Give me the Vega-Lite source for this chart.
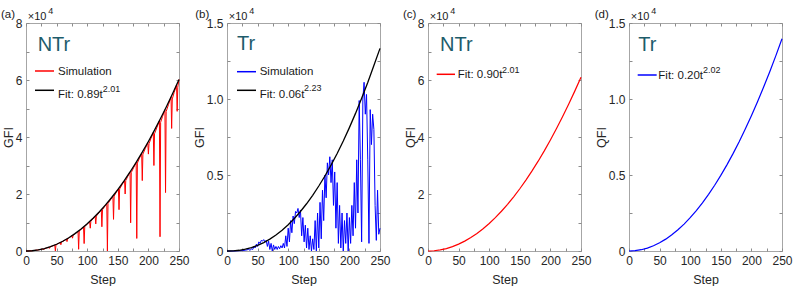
{
  "$schema": "https://vega.github.io/schema/vega-lite/v6.json",
  "padding": {"left": 0, "top": 5, "right": 0, "bottom": 0},
  "spacing": 48,
  "bounds": "flush",
  "config": {
    "font": "Liberation Sans",
    "view": {"stroke": "#a6a6a6", "strokeWidth": 1},
    "style": {"guide-title": {"fontWeight": "normal"}},
    "axis": {"grid": false, "domain": false, "tickSize": -3, "tickColor": "#8c8c8c", "tickWidth": 1,
      "labelFont": "Liberation Sans", "labelFontSize": 12, "labelColor": "#262626", "labelPadding": 7,
      "labelFlush": false, "labelOverlap": false,
      "titleFont": "Liberation Sans", "titleFontSize": 12.5, "titleFontWeight": "normal", "titleColor": "#262626"},
    "text": {"font": "Liberation Sans"}
  },
  "datasets": {
    "simA": [
      {"t":0,"v":0},{"t":10,"v":92},{"t":20,"v":374},{"t":27,"v":687},{"t":28,"v":738},{"t":29,"v":400},{"t":30,"v":823},{"t":33,"v":1012},
      {"t":37,"v":1293},{"t":38,"v":900},{"t":39,"v":1395},{"t":43,"v":1723},{"t":47,"v":2092},{"t":48,"v":0},{"t":49,"v":2206},{"t":52,"v":2525},
      {"t":56,"v":2976},{"t":57,"v":2200},{"t":58,"v":3098},{"t":62,"v":3596},{"t":66,"v":4140},{"t":67,"v":3300},{"t":68,"v":4264},{"t":71,"v":4722},
      {"t":75,"v":5352},{"t":76,"v":4500},{"t":77,"v":5474},{"t":81,"v":6154},{"t":85,"v":6883},{"t":86,"v":600},{"t":87,"v":6997},{"t":90,"v":7606},
      {"t":94,"v":8428},{"t":95,"v":2600},{"t":96,"v":8528},{"t":100,"v":9399},{"t":104,"v":10326},{"t":105,"v":8000},{"t":106,"v":10407},{"t":109,"v":11178},
      {"t":113,"v":12201},{"t":114,"v":9500},{"t":115,"v":12260},{"t":119,"v":13335},{"t":123,"v":14468},{"t":124,"v":8500},{"t":125,"v":14497},{"t":128,"v":15440},
      {"t":132,"v":16674},{"t":133,"v":0},{"t":134,"v":16671},{"t":138,"v":17960},{"t":142,"v":19310},{"t":143,"v":11100},{"t":144,"v":19263},{"t":147,"v":20390},
      {"t":151,"v":21847},{"t":152,"v":14500},{"t":153,"v":21761},{"t":157,"v":23273},{"t":161,"v":24855},{"t":162,"v":20000},{"t":163,"v":24714},{"t":166,"v":26035},
      {"t":170,"v":27726},{"t":171,"v":9900},{"t":172,"v":27534},{"t":176,"v":29281},{"t":180,"v":31101},{"t":181,"v":4400},{"t":182,"v":30845},{"t":185,"v":32371},
      {"t":189,"v":34307},{"t":190,"v":24700},{"t":191,"v":33990},{"t":195,"v":35982},{"t":199,"v":38050},{"t":200,"v":34000},{"t":201,"v":37658},{"t":204,"v":39398},
      {"t":208,"v":41591},{"t":209,"v":30000},{"t":210,"v":41127},{"t":214,"v":43379},{"t":218,"v":45705},{"t":219,"v":5000},{"t":220,"v":45157},{"t":223,"v":47123},
      {"t":227,"v":49579},{"t":228,"v":20500},{"t":229,"v":48948},{"t":233,"v":51467},{"t":237,"v":54066},{"t":238,"v":43000},{"t":239,"v":53339},{"t":242,"v":55538},
      {"t":246,"v":58275},{"t":247,"v":49000},{"t":248,"v":57455},{"t":250,"v":60192}
    ],
    "fitA": [
      {"t":0,"v":0},{"t":10,"v":93},{"t":20,"v":376},{"t":30,"v":849},{"t":40,"v":1513},{"t":50,"v":2370},{"t":60,"v":3418},{"t":70,"v":4659},
      {"t":80,"v":6094},{"t":90,"v":7722},{"t":100,"v":9543},{"t":110,"v":11558},{"t":120,"v":13767},{"t":130,"v":16170},{"t":140,"v":18767},
      {"t":150,"v":21559},{"t":160,"v":24546},{"t":170,"v":27727},{"t":180,"v":31102},{"t":190,"v":34674},{"t":200,"v":38438},{"t":210,"v":42398},
      {"t":220,"v":46553},{"t":230,"v":50906},{"t":240,"v":55450},{"t":250,"v":60196}
    ],
    "simB": [
      {"t":0,"v":0},{"t":5,"v":0},{"t":10,"v":0},{"t":15,"v":10},{"t":20,"v":20},{"t":25,"v":30},{"t":30,"v":50},{"t":35,"v":100},{"t":38,"v":50},
      {"t":40,"v":150},{"t":42,"v":100},{"t":44,"v":300},{"t":46,"v":200},{"t":48,"v":450},{"t":50,"v":300},{"t":52,"v":600},{"t":54,"v":500},
      {"t":56,"v":700},{"t":58,"v":650},{"t":60,"v":750},{"t":62,"v":600},{"t":64,"v":700},{"t":66,"v":300},{"t":68,"v":650},{"t":70,"v":100},
      {"t":72,"v":500},{"t":74,"v":0},{"t":76,"v":400},{"t":78,"v":100},{"t":80,"v":300},{"t":82,"v":100},{"t":84,"v":300},{"t":86,"v":150},
      {"t":88,"v":350},{"t":90,"v":200},{"t":92,"v":500},{"t":94,"v":200},{"t":96,"v":1000},{"t":98,"v":300},{"t":100,"v":1500},{"t":102,"v":600},
      {"t":104,"v":2000},{"t":106,"v":1200},{"t":108,"v":2300},{"t":110,"v":1800},{"t":112,"v":2600},{"t":114,"v":2500},{"t":116,"v":2800},
      {"t":118,"v":2200},{"t":120,"v":2700},{"t":122,"v":1000},{"t":124,"v":2200},{"t":126,"v":600},{"t":128,"v":1700},{"t":130,"v":200},
      {"t":132,"v":1500},{"t":134,"v":100},{"t":136,"v":1000},{"t":138,"v":0},{"t":140,"v":800},{"t":142,"v":100},{"t":144,"v":2000},{"t":146,"v":0},
      {"t":148,"v":2500},{"t":150,"v":200},{"t":152,"v":3200},{"t":154,"v":800},{"t":156,"v":4000},{"t":158,"v":2000},{"t":160,"v":5000},
      {"t":162,"v":3500},{"t":164,"v":5800},{"t":166,"v":5000},{"t":168,"v":6200},{"t":170,"v":4500},{"t":172,"v":6000},{"t":174,"v":3000},
      {"t":176,"v":5200},{"t":178,"v":1500},{"t":180,"v":4500},{"t":182,"v":500},{"t":184,"v":3000},{"t":186,"v":200},{"t":188,"v":2500},
      {"t":190,"v":0},{"t":192,"v":2000},{"t":194,"v":500},{"t":196,"v":2500},{"t":198,"v":0},{"t":200,"v":2200},{"t":202,"v":500},{"t":204,"v":3000},
      {"t":206,"v":1000},{"t":208,"v":4500},{"t":210,"v":1500},{"t":212,"v":6000},{"t":214,"v":2500},{"t":216,"v":9900},{"t":218,"v":6000},
      {"t":220,"v":600},{"t":222,"v":10000},{"t":224,"v":11100},{"t":226,"v":9000},{"t":228,"v":10300},{"t":230,"v":6000},{"t":232,"v":500},
      {"t":234,"v":9300},{"t":236,"v":7000},{"t":238,"v":9000},{"t":240,"v":8000},{"t":242,"v":3000},{"t":244,"v":700},{"t":246,"v":4000},
      {"t":248,"v":1100},{"t":250,"v":1500}
    ],
    "fitB": [
      {"t":0,"v":0},{"t":10,"v":10},{"t":20,"v":48},{"t":30,"v":118},{"t":40,"v":224},{"t":50,"v":369},{"t":60,"v":553},{"t":70,"v":781},
      {"t":80,"v":1052},{"t":90,"v":1368},{"t":100,"v":1730},{"t":110,"v":2138},{"t":120,"v":2597},{"t":130,"v":3107},{"t":140,"v":3665},
      {"t":150,"v":4275},{"t":160,"v":4933},{"t":170,"v":5651},{"t":180,"v":6416},{"t":190,"v":7235},{"t":200,"v":8118},{"t":210,"v":9054},
      {"t":220,"v":10056},{"t":230,"v":11088},{"t":240,"v":12204},{"t":250,"v":13332}
    ],
    "fitC": [
      {"t":0,"v":0},{"t":10,"v":94},{"t":20,"v":381},{"t":30,"v":860},{"t":40,"v":1534},{"t":50,"v":2401},{"t":60,"v":3463},{"t":70,"v":4721},
      {"t":80,"v":6174},{"t":90,"v":7824},{"t":100,"v":9669},{"t":110,"v":11711},{"t":120,"v":13948},{"t":130,"v":16383},{"t":140,"v":19015},
      {"t":150,"v":21844},{"t":160,"v":24870},{"t":170,"v":28093},{"t":180,"v":31513},{"t":190,"v":35131},{"t":200,"v":38946},{"t":210,"v":42958},
      {"t":220,"v":47168},{"t":230,"v":51579},{"t":240,"v":56183},{"t":250,"v":60991}
    ],
    "fitD": [
      {"t":0,"v":0},{"t":10,"v":21},{"t":20,"v":85},{"t":30,"v":193},{"t":40,"v":345},{"t":50,"v":541},{"t":60,"v":781},{"t":70,"v":1067},
      {"t":80,"v":1397},{"t":90,"v":1772},{"t":100,"v":2193},{"t":110,"v":2658},{"t":120,"v":3169},{"t":130,"v":3726},{"t":140,"v":4327},
      {"t":150,"v":4975},{"t":160,"v":5667},{"t":170,"v":6405},{"t":180,"v":7189},{"t":190,"v":8019},{"t":200,"v":8894},{"t":210,"v":9815},
      {"t":220,"v":10783},{"t":230,"v":11796},{"t":240,"v":12854},{"t":250,"v":13960}
    ],
    "seg": [
      {"p":"a","item":"sim","t":14.7,"v":63160},{"p":"a","item":"sim","t":45.8,"v":63160},
      {"p":"a","item":"fit","t":14.7,"v":56390},{"p":"a","item":"fit","t":45.8,"v":56390},
      {"p":"b","item":"sim","t":16.3,"v":11796},{"p":"b","item":"sim","t":47.4,"v":11796},
      {"p":"b","item":"fit","t":16.3,"v":10572},{"p":"b","item":"fit","t":47.4,"v":10572},
      {"p":"c","item":"fit","t":14.2,"v":62000},{"p":"c","item":"fit","t":44.1,"v":62000},
      {"p":"d","item":"fit","t":14.2,"v":11579},{"p":"d","item":"fit","t":45.2,"v":11579}
    ],
    "ann": [
      {"p":"a","k":"title","label":"NTr","t":19,"v":70350},
      {"p":"a","k":"txt","label":"Simulation","t":52.3,"v":61750},
      {"p":"a","k":"txt","label":"Fit: 0.89t","t":52.3,"v":53790},
      {"p":"a","k":"sup","label":"2.01","t":125.5,"v":55680},
      {"p":"a","k":"txt","label":"(a)","t":-40.8,"v":81650},
      {"p":"a","k":"x10","label":"×10","t":2.8,"v":81160},
      {"p":"a","k":"sup","label":"4","t":36.5,"v":83330},
      {"p":"b","k":"title","label":"Tr","t":16.3,"v":13204},
      {"p":"b","k":"txt","label":"Simulation","t":53.4,"v":11559},
      {"p":"b","k":"txt","label":"Fit: 0.06t","t":53.4,"v":10086},
      {"p":"b","k":"sup","label":"2.23","t":125.8,"v":10526},
      {"p":"b","k":"txt","label":"(b)","t":-52,"v":15309},
      {"p":"b","k":"x10","label":"×10","t":2.8,"v":15217},
      {"p":"b","k":"sup","label":"4","t":36.5,"v":15625},
      {"p":"c","k":"title","label":"NTr","t":19.6,"v":70175},
      {"p":"c","k":"txt","label":"Fit: 0.90t","t":48.5,"v":60597},
      {"p":"c","k":"sup","label":"2.01","t":121,"v":62456},
      {"p":"c","k":"txt","label":"(c)","t":-40.8,"v":81650},
      {"p":"c","k":"x10","label":"×10","t":2.8,"v":81160},
      {"p":"c","k":"sup","label":"4","t":36.5,"v":83330},
      {"p":"d","k":"title","label":"Tr","t":15.2,"v":13158},
      {"p":"d","k":"txt","label":"Fit: 0.20t","t":47.9,"v":11296},
      {"p":"d","k":"sup","label":"2.02","t":120.9,"v":11678},
      {"p":"d","k":"txt","label":"(d)","t":-56,"v":15309},
      {"p":"d","k":"x10","label":"×10","t":2.8,"v":15217},
      {"p":"d","k":"sup","label":"4","t":36.5,"v":15625}
    ]
  },
  "hconcat": [
    {
      "width": 153, "height": 228,
      "encoding": {
        "x": {"field": "t", "type": "quantitative", "scale": {"domain": [0, 250], "nice": false, "zero": false}, "axis": null},
        "y": {"field": "v", "type": "quantitative", "scale": {"domain": [0, 80000], "nice": false, "zero": false}, "axis": null}
      },
      "layer": [
        {"data": {"name": "simA"}, "mark": {"type": "line", "color": "#ff0000", "strokeWidth": 1},
         "encoding": {
           "x": {"field": "t", "type": "quantitative", "scale": {"domain": [0, 250], "nice": false, "zero": false},
                 "axis": {"orient": "bottom", "values": [0,25,50,75,100,125,150,175,200,225,250], "labelExpr": "datum.value % 50 === 0 ? datum.label : ''", "title": "Step", "titlePadding": 7, "titleFontWeight": "normal"}},
           "y": {"field": "v", "type": "quantitative", "scale": {"domain": [0, 80000], "nice": false, "zero": false},
                 "axis": {"orient": "left", "values": [0,10000,20000,30000,40000,50000,60000,70000,80000], "labelExpr": "datum.value % 20000 === 0 ? format(datum.value/10000, 'd') : ''", "title": "GFI", "titlePadding": 0, "titleFontWeight": "normal"}}
         }},
        {"data": {"name": "fitA"}, "mark": {"type": "line", "color": "#000000", "strokeWidth": 1.3},
         "encoding": {
           "x": {"field": "t", "type": "quantitative", "scale": {"domain": [0, 250], "nice": false, "zero": false},
                 "axis": {"orient": "top", "values": [0,25,50,75,100,125,150,175,200,225,250], "labels": false, "title": null}},
           "y": {"field": "v", "type": "quantitative", "scale": {"domain": [0, 80000], "nice": false, "zero": false},
                 "axis": {"orient": "right", "values": [0,10000,20000,30000,40000,50000,60000,70000,80000], "labels": false, "title": null}}
         }},
        {"data": {"name": "seg"}, "transform": [{"filter": "datum.p === 'a' && datum.item === 'sim'"}], "mark": {"type": "line", "color": "#ff0000", "strokeWidth": 1.5}, "encoding": {}},
        {"data": {"name": "seg"}, "transform": [{"filter": "datum.p === 'a' && datum.item === 'fit'"}], "mark": {"type": "line", "color": "#000000", "strokeWidth": 1.5}, "encoding": {}},
        {"data": {"name": "ann"}, "transform": [{"filter": "datum.p === 'a' && datum.k === 'title'"}], "mark": {"type": "text", "align": "left", "baseline": "alphabetic", "fontSize": 20, "color": "#1d5c6b"}, "encoding": {"text": {"field": "label"}}},
        {"data": {"name": "ann"}, "transform": [{"filter": "datum.p === 'a' && datum.k === 'txt'"}], "mark": {"type": "text", "align": "left", "baseline": "alphabetic", "fontSize": 11.5, "color": "#1a1a1a"}, "encoding": {"text": {"field": "label"}}},
        {"data": {"name": "ann"}, "transform": [{"filter": "datum.p === 'a' && datum.k === 'x10'"}], "mark": {"type": "text", "align": "left", "baseline": "alphabetic", "fontSize": 11, "color": "#1a1a1a"}, "encoding": {"text": {"field": "label"}}},
        {"data": {"name": "ann"}, "transform": [{"filter": "datum.p === 'a' && datum.k === 'sup'"}], "mark": {"type": "text", "align": "left", "baseline": "alphabetic", "fontSize": 9, "color": "#1a1a1a"}, "encoding": {"text": {"field": "label"}}}
      ],
      "resolve": {"axis": {"x": "independent", "y": "independent"}}
    },
    {
      "width": 153, "height": 228,
      "encoding": {
        "x": {"field": "t", "type": "quantitative", "scale": {"domain": [0, 250], "nice": false, "zero": false}, "axis": null},
        "y": {"field": "v", "type": "quantitative", "scale": {"domain": [0, 15000], "nice": false, "zero": false}, "axis": null}
      },
      "layer": [
        {"data": {"name": "simB"}, "mark": {"type": "line", "color": "#0000ff", "strokeWidth": 1},
         "encoding": {
           "x": {"field": "t", "type": "quantitative", "scale": {"domain": [0, 250], "nice": false, "zero": false},
                 "axis": {"orient": "bottom", "values": [0,25,50,75,100,125,150,175,200,225,250], "labelExpr": "datum.value % 50 === 0 ? datum.label : ''", "title": "Step", "titlePadding": 7, "titleFontWeight": "normal"}},
           "y": {"field": "v", "type": "quantitative", "scale": {"domain": [0, 15000], "nice": false, "zero": false},
                 "axis": {"orient": "left", "values": [0,2500,5000,7500,10000,12500,15000], "labelExpr": "datum.value === 0 ? '0' : (datum.value % 5000 === 0 ? format(datum.value/10000, '.1f') : '')", "title": "GFI", "titlePadding": 0, "titleFontWeight": "normal"}}
         }},
        {"data": {"name": "fitB"}, "mark": {"type": "line", "color": "#000000", "strokeWidth": 1.3},
         "encoding": {
           "x": {"field": "t", "type": "quantitative", "scale": {"domain": [0, 250], "nice": false, "zero": false},
                 "axis": {"orient": "top", "values": [0,25,50,75,100,125,150,175,200,225,250], "labels": false, "title": null}},
           "y": {"field": "v", "type": "quantitative", "scale": {"domain": [0, 15000], "nice": false, "zero": false},
                 "axis": {"orient": "right", "values": [0,2500,5000,7500,10000,12500,15000], "labels": false, "title": null}}
         }},
        {"data": {"name": "seg"}, "transform": [{"filter": "datum.p === 'b' && datum.item === 'sim'"}], "mark": {"type": "line", "color": "#0000ff", "strokeWidth": 1.5}, "encoding": {}},
        {"data": {"name": "seg"}, "transform": [{"filter": "datum.p === 'b' && datum.item === 'fit'"}], "mark": {"type": "line", "color": "#000000", "strokeWidth": 1.5}, "encoding": {}},
        {"data": {"name": "ann"}, "transform": [{"filter": "datum.p === 'b' && datum.k === 'title'"}], "mark": {"type": "text", "align": "left", "baseline": "alphabetic", "fontSize": 20, "color": "#1d5c6b"}, "encoding": {"text": {"field": "label"}}},
        {"data": {"name": "ann"}, "transform": [{"filter": "datum.p === 'b' && datum.k === 'txt'"}], "mark": {"type": "text", "align": "left", "baseline": "alphabetic", "fontSize": 11.5, "color": "#1a1a1a"}, "encoding": {"text": {"field": "label"}}},
        {"data": {"name": "ann"}, "transform": [{"filter": "datum.p === 'b' && datum.k === 'x10'"}], "mark": {"type": "text", "align": "left", "baseline": "alphabetic", "fontSize": 11, "color": "#1a1a1a"}, "encoding": {"text": {"field": "label"}}},
        {"data": {"name": "ann"}, "transform": [{"filter": "datum.p === 'b' && datum.k === 'sup'"}], "mark": {"type": "text", "align": "left", "baseline": "alphabetic", "fontSize": 9, "color": "#1a1a1a"}, "encoding": {"text": {"field": "label"}}}
      ],
      "resolve": {"axis": {"x": "independent", "y": "independent"}}
    },
    {
      "width": 153, "height": 228,
      "encoding": {
        "x": {"field": "t", "type": "quantitative", "scale": {"domain": [0, 250], "nice": false, "zero": false}, "axis": null},
        "y": {"field": "v", "type": "quantitative", "scale": {"domain": [0, 80000], "nice": false, "zero": false}, "axis": null}
      },
      "layer": [
        {"data": {"name": "fitC"}, "mark": {"type": "line", "color": "#ff0000", "strokeWidth": 1.2},
         "encoding": {
           "x": {"field": "t", "type": "quantitative", "scale": {"domain": [0, 250], "nice": false, "zero": false},
                 "axis": {"orient": "bottom", "values": [0,25,50,75,100,125,150,175,200,225,250], "labelExpr": "datum.value % 50 === 0 ? datum.label : ''", "title": "Step", "titlePadding": 7, "titleFontWeight": "normal"}},
           "y": {"field": "v", "type": "quantitative", "scale": {"domain": [0, 80000], "nice": false, "zero": false},
                 "axis": {"orient": "left", "values": [0,10000,20000,30000,40000,50000,60000,70000,80000], "labelExpr": "datum.value % 20000 === 0 ? format(datum.value/10000, 'd') : ''", "title": "QFI", "titlePadding": 0, "titleFontWeight": "normal"}}
         }},
        {"data": {"name": "seg"}, "transform": [{"filter": "datum.p === 'c' && datum.item === 'fit'"}], "mark": {"type": "line", "color": "#ff0000", "strokeWidth": 1.5},
         "encoding": {
           "x": {"field": "t", "type": "quantitative", "scale": {"domain": [0, 250], "nice": false, "zero": false},
                 "axis": {"orient": "top", "values": [0,25,50,75,100,125,150,175,200,225,250], "labels": false, "title": null}},
           "y": {"field": "v", "type": "quantitative", "scale": {"domain": [0, 80000], "nice": false, "zero": false},
                 "axis": {"orient": "right", "values": [0,10000,20000,30000,40000,50000,60000,70000,80000], "labels": false, "title": null}}
         }},
        {"data": {"name": "ann"}, "transform": [{"filter": "datum.p === 'c' && datum.k === 'title'"}], "mark": {"type": "text", "align": "left", "baseline": "alphabetic", "fontSize": 20, "color": "#1d5c6b"}, "encoding": {"text": {"field": "label"}}},
        {"data": {"name": "ann"}, "transform": [{"filter": "datum.p === 'c' && datum.k === 'txt'"}], "mark": {"type": "text", "align": "left", "baseline": "alphabetic", "fontSize": 11.5, "color": "#1a1a1a"}, "encoding": {"text": {"field": "label"}}},
        {"data": {"name": "ann"}, "transform": [{"filter": "datum.p === 'c' && datum.k === 'x10'"}], "mark": {"type": "text", "align": "left", "baseline": "alphabetic", "fontSize": 11, "color": "#1a1a1a"}, "encoding": {"text": {"field": "label"}}},
        {"data": {"name": "ann"}, "transform": [{"filter": "datum.p === 'c' && datum.k === 'sup'"}], "mark": {"type": "text", "align": "left", "baseline": "alphabetic", "fontSize": 9, "color": "#1a1a1a"}, "encoding": {"text": {"field": "label"}}}
      ],
      "resolve": {"axis": {"x": "independent", "y": "independent"}}
    },
    {
      "width": 153, "height": 228,
      "encoding": {
        "x": {"field": "t", "type": "quantitative", "scale": {"domain": [0, 250], "nice": false, "zero": false}, "axis": null},
        "y": {"field": "v", "type": "quantitative", "scale": {"domain": [0, 15000], "nice": false, "zero": false}, "axis": null}
      },
      "layer": [
        {"data": {"name": "fitD"}, "mark": {"type": "line", "color": "#0000ff", "strokeWidth": 1.2},
         "encoding": {
           "x": {"field": "t", "type": "quantitative", "scale": {"domain": [0, 250], "nice": false, "zero": false},
                 "axis": {"orient": "bottom", "values": [0,25,50,75,100,125,150,175,200,225,250], "labelExpr": "datum.value % 50 === 0 ? datum.label : ''", "title": "Step", "titlePadding": 7, "titleFontWeight": "normal"}},
           "y": {"field": "v", "type": "quantitative", "scale": {"domain": [0, 15000], "nice": false, "zero": false},
                 "axis": {"orient": "left", "values": [0,2500,5000,7500,10000,12500,15000], "labelExpr": "datum.value === 0 ? '0' : (datum.value % 5000 === 0 ? format(datum.value/10000, '.1f') : '')", "title": "QFI", "titlePadding": 0, "titleFontWeight": "normal"}}
         }},
        {"data": {"name": "seg"}, "transform": [{"filter": "datum.p === 'd' && datum.item === 'fit'"}], "mark": {"type": "line", "color": "#0000ff", "strokeWidth": 1.5},
         "encoding": {
           "x": {"field": "t", "type": "quantitative", "scale": {"domain": [0, 250], "nice": false, "zero": false},
                 "axis": {"orient": "top", "values": [0,25,50,75,100,125,150,175,200,225,250], "labels": false, "title": null}},
           "y": {"field": "v", "type": "quantitative", "scale": {"domain": [0, 15000], "nice": false, "zero": false},
                 "axis": {"orient": "right", "values": [0,2500,5000,7500,10000,12500,15000], "labels": false, "title": null}}
         }},
        {"data": {"name": "ann"}, "transform": [{"filter": "datum.p === 'd' && datum.k === 'title'"}], "mark": {"type": "text", "align": "left", "baseline": "alphabetic", "fontSize": 20, "color": "#1d5c6b"}, "encoding": {"text": {"field": "label"}}},
        {"data": {"name": "ann"}, "transform": [{"filter": "datum.p === 'd' && datum.k === 'txt'"}], "mark": {"type": "text", "align": "left", "baseline": "alphabetic", "fontSize": 11.5, "color": "#1a1a1a"}, "encoding": {"text": {"field": "label"}}},
        {"data": {"name": "ann"}, "transform": [{"filter": "datum.p === 'd' && datum.k === 'x10'"}], "mark": {"type": "text", "align": "left", "baseline": "alphabetic", "fontSize": 11, "color": "#1a1a1a"}, "encoding": {"text": {"field": "label"}}},
        {"data": {"name": "ann"}, "transform": [{"filter": "datum.p === 'd' && datum.k === 'sup'"}], "mark": {"type": "text", "align": "left", "baseline": "alphabetic", "fontSize": 9, "color": "#1a1a1a"}, "encoding": {"text": {"field": "label"}}}
      ],
      "resolve": {"axis": {"x": "independent", "y": "independent"}}
    }
  ]
}
